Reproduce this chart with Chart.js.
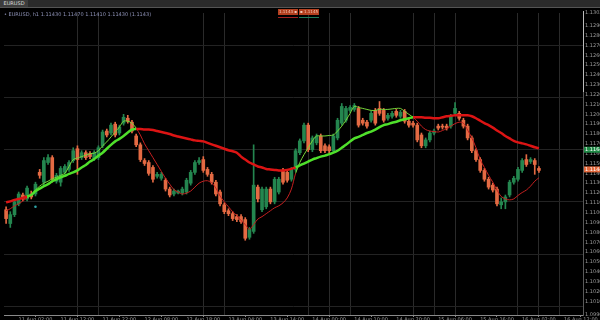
<!DOCTYPE html>
<html>
<head>
<meta charset="utf-8">
<script src="https://cdn.jsdelivr.net/npm/chart.js@4.4.1/dist/chart.umd.min.js"></script>
<style>
  html, body { margin: 0; padding: 0; background: #000; width: 600px; height: 320px; overflow: hidden; font-family: "DejaVu Sans", sans-serif; }
  #tabbar { position: absolute; left: 0; top: 0; width: 600px; height: 7px; background: #2b2b2b; border-bottom: 1px solid #555; }
  #tab { position: absolute; left: 0; top: 0; width: 28px; height: 7px; background: #3d3d3d; color: #ddd; font-size: 5px; line-height: 7px; text-align: center; }
  #info { position: absolute; left: 4px; top: 11px; color: #8f93b8; font-size: 5px; white-space: nowrap; }
  .trade { position: absolute; top: 9px; height: 6px; background: #b4401f; color: #f0c8b8; font-size: 4px; line-height: 6px; text-align: center; white-space: nowrap; overflow: hidden; }
  .uline { position: absolute; top: 17px; height: 1px; }
  #scroll { position: absolute; left: 583px; top: 11px; width: 1px; height: 81px; background: #bbb; }
  #wrap { position: absolute; left: 0; top: 8px; width: 600px; height: 312px; }
</style>
</head>
<body>
<div id="tabbar"><div id="tab">EURUSD</div></div>
<div id="wrap"><canvas id="c" width="600" height="312"></canvas></div>
<div id="info">• EURUSD, h1 1.11430 1.11470 1.11410 1.11430 (1.1143)</div>
<div class="trade" style="left:278px;width:20px;">1.1143 ▪</div>
<div class="trade" style="left:299px;width:20px;">▪ 1.1145</div>
<div class="uline" style="left:278px;width:20px;background:#a02020;"></div>
<div class="uline" style="left:299px;width:20px;background:#1f7a5a;"></div>
<div id="scroll"></div>
<script>
// candles (h1), oldest first
const open = [
  1.1103, 1.1089, 1.1098, 1.1109, 1.1118, 1.1114, 1.1119, 1.1119, 1.1141, 1.1131,
  1.1151, 1.1156, 1.1132, 1.1131, 1.1141, 1.1144, 1.1153, 1.1165, 1.1156, 1.1161,
  1.1160, 1.1155, 1.1156, 1.1168, 1.1183, 1.1181, 1.1190, 1.1181, 1.1191, 1.1196,
  1.1192, 1.1178, 1.1169, 1.1153, 1.1151, 1.1146, 1.1137, 1.1135, 1.1133, 1.1124,
  1.1119, 1.1120, 1.1120, 1.1121, 1.1130, 1.1141, 1.1151, 1.1154, 1.1144, 1.1139,
  1.1131, 1.1121, 1.1108, 1.1102, 1.1099, 1.1096, 1.1096, 1.1093, 1.1075, 1.1081,
  1.1126, 1.1103, 1.1106, 1.1124, 1.1111, 1.1121, 1.1143, 1.1141, 1.1134, 1.1144,
  1.1161, 1.1173, 1.1189, 1.1164, 1.1171, 1.1178, 1.1168, 1.1167, 1.1163, 1.1176,
  1.1191, 1.1194, 1.1204, 1.1205, 1.1206, 1.1194, 1.1192, 1.1194, 1.1204, 1.1206,
  1.1204, 1.1196, 1.1198, 1.1203, 1.1198, 1.1203, 1.1193, 1.1191, 1.1189, 1.1179,
  1.1168, 1.1174, 1.1181, 1.1188, 1.1188, 1.1188, 1.1188, 1.1201, 1.1201, 1.1194,
  1.1188, 1.1176, 1.1163, 1.1154, 1.1143, 1.1134, 1.1128, 1.1124, 1.1108, 1.1111,
  1.1118, 1.1131, 1.1134, 1.1143, 1.1154, 1.1152, 1.1153, 1.1145
];
const high = [
  1.1106, 1.1101, 1.1113, 1.1121, 1.1120, 1.1127, 1.1122, 1.1131, 1.1144, 1.1156,
  1.1159, 1.1158, 1.1140, 1.1147, 1.1149, 1.1153, 1.1166, 1.1168, 1.1163, 1.1163,
  1.1162, 1.1163, 1.1168, 1.1184, 1.1185, 1.1191, 1.1192, 1.1189, 1.1200, 1.1199,
  1.1194, 1.1180, 1.1171, 1.1155, 1.1153, 1.1148, 1.1141, 1.1141, 1.1135, 1.1126,
  1.1124, 1.1123, 1.1126, 1.1135, 1.1143, 1.1153, 1.1156, 1.1157, 1.1146, 1.1141,
  1.1133, 1.1123, 1.1110, 1.1104, 1.1101, 1.1098, 1.1098, 1.1095, 1.1085, 1.1169,
  1.1128, 1.1126, 1.1126, 1.1126, 1.1136, 1.1136, 1.1145, 1.1143, 1.1146, 1.1165,
  1.1175, 1.1191, 1.1191, 1.1178, 1.1180, 1.1180, 1.1170, 1.1169, 1.1180, 1.1196,
  1.1211, 1.1208, 1.1209, 1.1211, 1.1208, 1.1196, 1.1194, 1.1203, 1.1206, 1.1213,
  1.1206, 1.1201, 1.1203, 1.1205, 1.1204, 1.1205, 1.1195, 1.1193, 1.1191, 1.1181,
  1.1176, 1.1183, 1.1185, 1.1190, 1.1190, 1.1190, 1.1200, 1.1212, 1.1203, 1.1196,
  1.1190, 1.1178, 1.1165, 1.1156, 1.1145, 1.1136, 1.1130, 1.1126, 1.1115, 1.1118,
  1.1133, 1.1137, 1.1146, 1.1155, 1.1159, 1.1156, 1.1155, 1.1147
];
const low = [
  1.1089, 1.1085, 1.1096, 1.1107, 1.1112, 1.1112, 1.1114, 1.1117, 1.1135, 1.1128,
  1.1149, 1.1131, 1.1130, 1.1127, 1.1139, 1.1142, 1.1151, 1.1139, 1.1154, 1.1154,
  1.1155, 1.1153, 1.1154, 1.1166, 1.1177, 1.1179, 1.1177, 1.1179, 1.1189, 1.1191,
  1.1181, 1.1167, 1.1152, 1.1148, 1.1138, 1.1131, 1.1135, 1.1133, 1.1122, 1.1116,
  1.1117, 1.1119, 1.1118, 1.1119, 1.1128, 1.1139, 1.1149, 1.1141, 1.1137, 1.1129,
  1.1117, 1.1107, 1.1099, 1.1097, 1.1092, 1.1091, 1.1089, 1.1072, 1.1073, 1.1079,
  1.1111, 1.1101, 1.1104, 1.1109, 1.1109, 1.1119, 1.1129, 1.1131, 1.1132, 1.1142,
  1.1159, 1.1171, 1.1162, 1.1162, 1.1169, 1.1161, 1.1161, 1.1161, 1.1161, 1.1174,
  1.1189, 1.1192, 1.1202, 1.1203, 1.1187, 1.1189, 1.1186, 1.1192, 1.1189, 1.1199,
  1.1192, 1.1194, 1.1196, 1.1197, 1.1196, 1.1191, 1.1187, 1.1187, 1.1172, 1.1166,
  1.1166, 1.1172, 1.1179, 1.1184, 1.1185, 1.1184, 1.1186, 1.1199, 1.1194, 1.1186,
  1.1174, 1.1161, 1.1152, 1.1141, 1.1132, 1.1124, 1.1121, 1.1107, 1.1104, 1.1104,
  1.1116, 1.1129, 1.1132, 1.1141, 1.1147, 1.1150, 1.1139, 1.1141
];
const close = [
  1.1094, 1.1098, 1.1111, 1.1119, 1.1114, 1.1125, 1.1116, 1.1129, 1.1138, 1.1153,
  1.1156, 1.1134, 1.1138, 1.1145, 1.1147, 1.1151, 1.1163, 1.1154, 1.1161, 1.1156,
  1.1157, 1.1161, 1.1166, 1.1182, 1.1179, 1.1189, 1.1179, 1.1187, 1.1197, 1.1193,
  1.1183, 1.1169, 1.1154, 1.1150, 1.1140, 1.1134, 1.1139, 1.1139, 1.1124, 1.1118,
  1.1122, 1.1122, 1.1124, 1.1133, 1.1141, 1.1151, 1.1153, 1.1143, 1.1139, 1.1131,
  1.1119, 1.1109, 1.1101, 1.1099, 1.1094, 1.1093, 1.1091, 1.1074, 1.1083, 1.1128,
  1.1114, 1.1124, 1.1124, 1.1111, 1.1134, 1.1134, 1.1131, 1.1133, 1.1144, 1.1163,
  1.1173, 1.1189, 1.1164, 1.1176, 1.1178, 1.1163, 1.1163, 1.1163, 1.1178, 1.1194,
  1.1208, 1.1206, 1.1207, 1.1209, 1.1189, 1.1191, 1.1188, 1.1201, 1.1191, 1.1201,
  1.1194, 1.1199, 1.1201, 1.1199, 1.1202, 1.1193, 1.1189, 1.1189, 1.1174, 1.1168,
  1.1174, 1.1181, 1.1183, 1.1186, 1.1187, 1.1186, 1.1198, 1.1206, 1.1196, 1.1188,
  1.1176, 1.1163, 1.1154, 1.1143, 1.1134, 1.1126, 1.1123, 1.1109, 1.1111, 1.1116,
  1.1131, 1.1135, 1.1144, 1.1153, 1.1149, 1.1154, 1.1149, 1.1143
];
// fast moving average (thin line)
const maFast = [
  1.1102, 1.1104, 1.1107, 1.1109, 1.1112, 1.1115, 1.1118, 1.1123, 1.1127, 1.1130,
  1.1132, 1.11345, 1.1136, 1.1138, 1.1140, 1.1147, 1.1154, 1.11555, 1.1157, 1.11585,
  1.1160, 1.11605, 1.1163, 1.1168, 1.1172, 1.1177, 1.1182, 1.1187, 1.1193, 1.1193,
  1.1191, 1.1186, 1.1179, 1.1170, 1.1163, 1.1156, 1.1149, 1.1142, 1.1135, 1.1129,
  1.11235, 1.1121, 1.1119, 1.1120, 1.1122, 1.1126, 1.1130, 1.1132, 1.11325, 1.11305,
  1.1125, 1.1117, 1.1111, 1.1106, 1.1101, 1.1097, 1.1092, 1.1088, 1.1083, 1.1088,
  1.10935, 1.1096, 1.1099, 1.1102, 1.1105, 1.1107, 1.1110, 1.1115, 1.1124, 1.1140,
  1.1151, 1.1159, 1.1166, 1.1173, 1.1178, 1.1178, 1.1178, 1.11785, 1.1179, 1.1183,
  1.1188, 1.1194, 1.1201, 1.1208, 1.1207, 1.1206, 1.1205, 1.1204, 1.1204, 1.1205,
  1.1205, 1.1205, 1.12055, 1.1206, 1.1206, 1.1203, 1.1200, 1.1197, 1.1193, 1.1188,
  1.11845, 1.1183, 1.11825, 1.1182, 1.11835, 1.11855, 1.1188, 1.11905, 1.1192, 1.1191,
  1.1184, 1.1176, 1.1166, 1.1154, 1.1146, 1.1138, 1.1131, 1.1123, 1.11165, 1.1114,
  1.1113, 1.1114, 1.11175, 1.11205, 1.1123, 1.1127, 1.1132, 1.11355
];
// slow moving average (thick line)
const maSlow = [
  1.11105, 1.11115, 1.1113, 1.1114, 1.1115, 1.11165, 1.1118, 1.1122, 1.11245, 1.1127,
  1.1129, 1.1132, 1.1134, 1.1136, 1.11375, 1.11395, 1.1141, 1.1143, 1.1146, 1.11485,
  1.1152, 1.11545, 1.1158, 1.1161, 1.1165, 1.1169, 1.11725, 1.1175, 1.1178, 1.11815,
  1.11845, 1.1185, 1.1185, 1.11845, 1.11845, 1.1184, 1.1183, 1.1182, 1.1181, 1.1180,
  1.11785, 1.11775, 1.11765, 1.11755, 1.11745, 1.11735, 1.1173, 1.11725, 1.1171, 1.11695,
  1.1168, 1.11665, 1.1165, 1.11635, 1.11625, 1.1161, 1.1157, 1.1154, 1.1151, 1.1149,
  1.1147, 1.1146, 1.11445, 1.1144, 1.11435, 1.1143, 1.1143, 1.11435, 1.11445, 1.1146,
  1.1148, 1.1150, 1.1152, 1.1154, 1.11555, 1.1157, 1.1158, 1.11595, 1.1161, 1.1163,
  1.1166, 1.1169, 1.11725, 1.11755, 1.1177, 1.1179, 1.1181, 1.11825, 1.11845, 1.1187,
  1.1189, 1.1190, 1.11915, 1.11925, 1.1194, 1.1195, 1.1196, 1.1197, 1.1197, 1.1197,
  1.11965, 1.11965, 1.1196, 1.1196, 1.1197, 1.1198, 1.11985, 1.1199, 1.1199, 1.1199,
  1.1199, 1.1198, 1.1196, 1.11935, 1.1191, 1.1189, 1.11865, 1.11835, 1.1181, 1.1178,
  1.11755, 1.1173, 1.11715, 1.11705, 1.11695, 1.1168, 1.11665, 1.11655
];
const slots = 138;                 // bars visible on the time axis
const tickLabels = [
  '11 Aug 02:00', '11 Aug 12:00', '11 Aug 22:00', '12 Aug 08:00', '12 Aug 18:00',
  '13 Aug 04:00', '13 Aug 14:00', '14 Aug 00:00', '14 Aug 10:00', '14 Aug 20:00',
  '15 Aug 06:00', '15 Aug 16:00', '16 Aug 02:00', '16 Aug 12:00'
];
const gridRows = [1.1270, 1.1217, 1.1164, 1.1111, 1.1058, 1.1005];
const vGridAt = [17, 22, 47, 52, 72, 77, 82, 97, 102, 107, 122, 127, 132];
const markerIdx = 7, markerVal = 1.1106;
const askPrice = 1.1164, bidPrice = 1.1144;

const UP = '#24864f', DOWN = '#e46a43';
const candleColors = open.map((o, i) => close[i] >= o ? UP : DOWN);
const labels = Array.from({ length: slots }, (_, i) => i);
const markerData = labels.map(i => i === markerIdx ? markerVal : null);

const maColor = (green, red) => ctx =>
  maFast[ctx.p1DataIndex] >= maSlow[ctx.p1DataIndex] ? green : red;

const priceTags = {
  id: 'priceTags',
  afterDraw(chart) {
    const { ctx, chartArea, scales } = chart;
    const tags = [[askPrice, '#1f8a46'], [bidPrice, '#e2683c']];
    ctx.save();
    ctx.font = '5px "DejaVu Sans"';
    ctx.textBaseline = 'middle';
    tags.forEach(([v, col]) => {
      const y = scales.y.getPixelForValue(v);
      ctx.fillStyle = col;
      ctx.fillRect(chartArea.right + 1, y - 3, 600 - chartArea.right, 6);
      ctx.fillStyle = '#fff';
      ctx.fillText(v.toFixed(4), chartArea.right + 2, y);
    });
    ctx.restore();
  }
};

new Chart(document.getElementById('c'), {
  type: 'bar',
  data: {
    labels,
    datasets: [
      {
        label: 'slow',
        type: 'line',
        data: maSlow,
        borderWidth: 2.5,
        pointRadius: 0,
        tension: 0.3,
        segment: { borderColor: maColor('#4fe02b', '#dc1414') },
        order: 0
      },
      {
        label: 'fast',
        type: 'line',
        data: maFast,
        borderWidth: 1,
        pointRadius: 0,
        tension: 0.3,
        segment: { borderColor: maColor('#78d83a', '#c52020') },
        order: 0
      },
      {
        label: 'marker',
        type: 'line',
        data: markerData,
        showLine: false,
        pointRadius: 1.3,
        pointBackgroundColor: '#2fa5a8',
        pointBorderWidth: 0,
        order: 0
      },
      {
        label: 'body',
        data: open.map((o, i) => [o, close[i]]),
        backgroundColor: candleColors,
        barThickness: 3,
        minBarLength: 1,
        grouped: false,
        order: 1
      },
      {
        label: 'wick',
        data: low.map((l, i) => [l, high[i]]),
        backgroundColor: candleColors,
        barThickness: 1,
        grouped: false,
        order: 2
      }
    ]
  },
  options: {
    responsive: false,
    animation: false,
    layout: { padding: 0 },
    plugins: { legend: { display: false }, tooltip: { enabled: false } },
    scales: {
      x: {
        offset: true,
        grid: {
          offset: false,
          color: c => vGridAt.includes(c.index) ? '#2a2a2a' : 'transparent',
          tickColor: c => (c.index - 7) % 10 === 0 ? '#888' : 'transparent',
          tickLength: 2
        },
        border: { color: '#8a8a8a' },
        ticks: {
          autoSkip: false,
          maxRotation: 0,
          padding: 0,
          color: '#9a9a9a',
          font: { size: 5, family: 'DejaVu Sans' },
          callback: (v, i) => (i - 7) % 10 === 0 ? tickLabels[(i - 7) / 10] : ''
        },
        afterFit: s => { s.height = 5; }
      },
      y: {
        position: 'right',
        min: 1.0996,
        max: 1.1303,
        grid: { display: false, drawTicks: false },
        border: { color: '#5a5a5a' },
        ticks: {
          stepSize: 0.001,
          padding: 2,
          color: '#9a9a9a',
          font: { size: 5, family: 'DejaVu Sans' },
          callback: v => v.toFixed(4)
        },
        afterFit: s => { s.width = 17; }
      },
      grid2: {
        position: 'left',
        min: 1.0996,
        max: 1.1303,
        border: { display: false },
        grid: { color: '#232323', drawTicks: false },
        ticks: { display: false },
        afterBuildTicks: s => { s.ticks = gridRows.map(v => ({ value: v })); },
        afterFit: s => { s.width = 0; }
      }
    }
  },
  plugins: [priceTags]
});
</script>
</body>
</html>
